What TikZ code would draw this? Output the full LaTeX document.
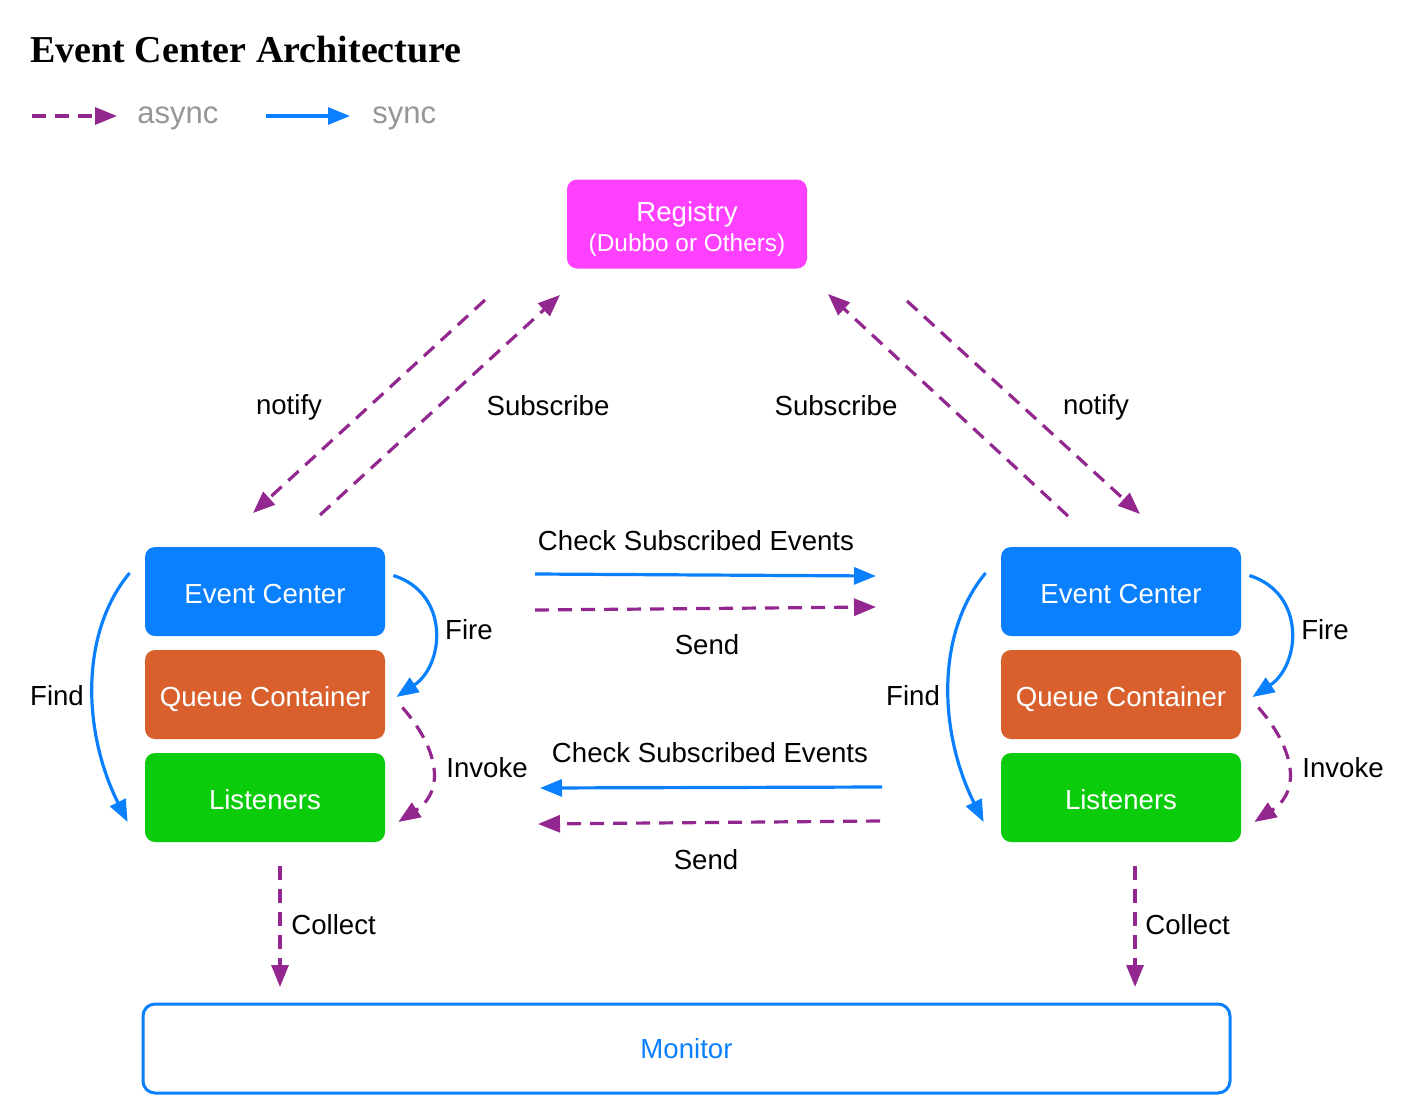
\documentclass[tikz,border=0pt]{standalone}
\usepackage{fontspec}
\setmainfont{Liberation Sans}
\newfontfamily\titlefont{Liberation Serif}
\usetikzlibrary{arrows.meta}

\definecolor{ecblue}{RGB}{10,128,255}
\definecolor{qcorange}{RGB}{217,96,45}
\definecolor{lsgreen}{RGB}{10,204,10}
\definecolor{regpink}{RGB}{255,64,255}
\definecolor{asyncpurple}{RGB}{146,39,143}
\definecolor{legendgray}{RGB}{150,150,150}

\tikzset{
  box/.style={rounded corners=5pt,minimum width=120pt,minimum height=44.5pt,
    inner sep=0pt,text=white,text height=12.5pt,text depth=1pt,
    font=\fontsize{13.8pt}{15pt}\selectfont},
  lbl/.style={inner sep=0pt,font=\fontsize{13.8pt}{15pt}\selectfont},
  legend/.style={inner sep=0pt,anchor=west,text=legendgray,
    font=\fontsize{15.5pt}{18pt}\selectfont},
  async/.style={asyncpurple,line width=1.6pt,dash pattern=on 7pt off 4.5pt,
    -{Triangle[length=11pt,width=8.5pt]}},
  sync/.style={ecblue,line width=1.6pt,-{Triangle[length=11pt,width=8.5pt]}},
}

\begin{document}
\begin{tikzpicture}[x=0.5pt,y=-0.5pt]
  \useasboundingbox (0,0) rectangle (1412,1113);
  \node (TITLE) at (30,63) [anchor=base west,inner sep=0pt,
    font=\titlefont\bfseries\fontsize{19pt}{22pt}\selectfont] {Event Center Architecture};

%% legend
  \coordinate (ASYNCA) at (32,116);
  \coordinate (ASYNCB) at (117,116);
  \coordinate (SYNCA) at (266,116);
  \coordinate (SYNCB) at (350,116);
  \draw[async] (ASYNCA) -- (ASYNCB);
  \draw[sync] (SYNCA) -- (SYNCB);
  \node (ASYNCT) at (137,118) [legend] {async};
  \node (SYNCT) at (372,118) [legend] {sync};

%% registry and monitor
  \node (REG) at (687,224) [box,fill=regpink,text height=,text depth=]
    {\raisebox{-3pt}[\height][\depth]{\begin{tabular}{@{}c@{}}Registry\\
      {\fontsize{12.2pt}{15pt}\selectfont (Dubbo or Others)}\end{tabular}}};
  \node (MON) at (686.5,1048.5) [lbl,draw=ecblue,line width=1.5pt,rounded corners=6pt,
    minimum width=543.5pt,minimum height=44.5pt,text=ecblue] {Monitor};

%% left column
  \node (ECL) at (265,591.5) [box,fill=ecblue] {Event Center};
  \node (QCL) at (265,694.5) [box,fill=qcorange] {Queue Container};
  \node (LSL) at (265,797.5) [box,fill=lsgreen] {Listeners};

%% right column
  \node (ECR) at (1121,591.5) [box,fill=ecblue] {Event Center};
  \node (QCR) at (1121,694.5) [box,fill=qcorange] {Queue Container};
  \node (LSR) at (1121,797.5) [box,fill=lsgreen] {Listeners};

%% registry links
  \coordinate (NOTL1) at (485,300);
  \coordinate (NOTL2) at (253,513);
  \coordinate (SUBL1) at (320,515);
  \coordinate (SUBL2) at (560,295);
  \coordinate (SUBR1) at (1068,516);
  \coordinate (SUBR2) at (828,294);
  \coordinate (NOTR1) at (907,301);
  \coordinate (NOTR2) at (1140,514);
  \draw[async] (NOTL1) -- (NOTL2);
  \draw[async] (SUBL1) -- (SUBL2);
  \draw[async] (SUBR1) -- (SUBR2);
  \draw[async] (NOTR1) -- (NOTR2);
  \node (NOTLT) at (289,407) [lbl] {notify};
  \node (SUBLT) at (548,406) [lbl] {Subscribe};
  \node (SUBRT) at (836,406) [lbl] {Subscribe};
  \node (NOTRT) at (1096,407) [lbl] {notify};

%% between the two centers
  \coordinate (CHKA1) at (535,574);
  \coordinate (CHKA2) at (876,576);
  \coordinate (SNDA1) at (535,610);
  \coordinate (SNDA2) at (876,607);
  \coordinate (CHKB1) at (882,787);
  \coordinate (CHKB2) at (540,788);
  \coordinate (SNDB1) at (880,821);
  \coordinate (SNDB2) at (538,824);
  \draw[sync] (CHKA1) -- (CHKA2);
  \draw[async] (SNDA1) -- (SNDA2);
  \draw[sync] (CHKB1) -- (CHKB2);
  \draw[async] (SNDB1) -- (SNDB2);
  \node (CHKAT) at (696,541) [lbl] {Check Subscribed Events};
  \node (SNDAT) at (707,645) [lbl] {Send};
  \node (CHKBT) at (710,753) [lbl] {Check Subscribed Events};
  \node (SNDBT) at (706,860) [lbl] {Send};

%% inside the left column
  \draw[sync] ([shift={(8,-16)}]ECL.east) .. controls +(57,18) and +(48,-32) .. ([shift={(11,2.5)}]QCL.east);
  \draw[async] ([shift={(17,13)}]QCL.east) .. controls +(35,40) and +(48,-32) .. ([shift={(13,24.5)}]LSL.east);
  \draw[sync] ([shift={(-15,-18.5)}]ECL.west) .. controls +(-50,60) and +(-45,-90) .. ([shift={(-17,24.5)}]LSL.west);
  \node (FIRELT) at (469,630) [lbl] {Fire};
  \node (INVLT) at (487,768) [lbl] {Invoke};
  \node (FINDLT) at (57,696) [lbl] {Find};

%% inside the right column
  \draw[sync] ([shift={(8,-16)}]ECR.east) .. controls +(57,18) and +(48,-32) .. ([shift={(11,2.5)}]QCR.east);
  \draw[async] ([shift={(17,13)}]QCR.east) .. controls +(35,40) and +(48,-32) .. ([shift={(13,24.5)}]LSR.east);
  \draw[sync] ([shift={(-15,-18.5)}]ECR.west) .. controls +(-50,60) and +(-45,-90) .. ([shift={(-17,24.5)}]LSR.west);
  \node (FIRERT) at (1325,630) [lbl] {Fire};
  \node (INVRT) at (1343,768) [lbl] {Invoke};
  \node (FINDRT) at (913,696) [lbl] {Find};

%% collect
  \coordinate (COLL1) at (280,866);
  \coordinate (COLL2) at (280,987);
  \coordinate (COLR1) at (1135,866);
  \coordinate (COLR2) at (1135,987);
  \draw[async] (COLL1) -- (COLL2);
  \draw[async] (COLR1) -- (COLR2);
  \node (COLLT) at (291,925) [lbl,anchor=west] {Collect};
  \node (COLRT) at (1145,925) [lbl,anchor=west] {Collect};

\end{tikzpicture}
\end{document}
